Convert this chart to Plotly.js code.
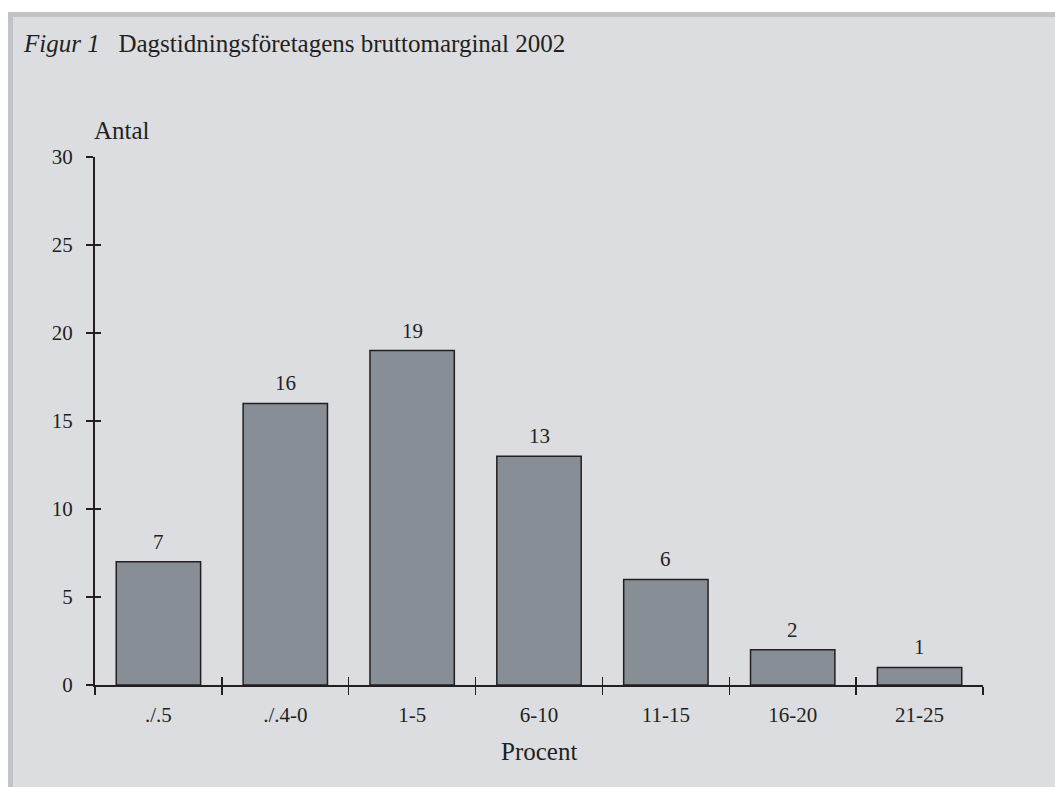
<!DOCTYPE html>
<html>
<head>
<meta charset="utf-8">
<script src="https://cdn.plot.ly/plotly-3.0.1.min.js"></script>
<style>
  html, body { margin: 0; padding: 0; background: #ffffff; }
  #frame {
    position: absolute; left: 8px; top: 12px; width: 1042px; height: 770px;
    background: #dcdde0; border-left: 5px solid #c2c3c5; border-top: 5px solid #c2c3c5;
  }
  #chart { position: absolute; left: 0; top: 0; width: 1055px; height: 787px; }
</style>
</head>
<body>
<div id="frame"></div>
<div id="chart"></div>
<script>
const categories = ['./.5', './.4-0', '1-5', '6-10', '11-15', '16-20', '21-25'];
const counts = [7, 16, 19, 13, 6, 2, 1];
const yTicks = [0, 5, 10, 15, 20, 25, 30];

const FONT = '"Liberation Serif", "Times New Roman", serif';
const INK = '#231f20';

const bars = {
  type: 'bar', x: categories, y: counts,
  marker: { color: '#878e96', line: { color: INK, width: 1.5 } },
  hoverinfo: 'skip', showlegend: false
};
const ghost = {
  type: 'bar', x: categories, y: counts, xaxis: 'x2', yaxis: 'y2',
  marker: { color: 'rgba(0,0,0,0)' }, hoverinfo: 'skip', showlegend: false
};

const labelAnnotations = categories.map((c, i) => ({
  x: c, y: counts[i], xref: 'x', yref: 'y', text: String(counts[i]),
  showarrow: false, yanchor: 'bottom', yshift: 6,
  font: { family: FONT, size: 21, color: INK }
}));

const layout = {
  width: 1055, height: 787,
  margin: { l: 95, r: 72, t: 157, b: 102, pad: 0 },
  paper_bgcolor: 'rgba(0,0,0,0)', plot_bgcolor: 'rgba(0,0,0,0)',
  bargap: 0.335,
  font: { family: FONT, color: INK },
  title: {
    text: '<i>Figur 1</i>&nbsp;&nbsp;&nbsp;Dagstidningsföretagens bruttomarginal 2002',
    xref: 'container', yref: 'container', x: 24 / 1055, xanchor: 'left',
    y: 1 - 43 / 787, yanchor: 'middle',
    font: { family: FONT, size: 25, color: INK }
  },
  xaxis: {
    type: 'category', categoryarray: categories, range: [-0.5, categories.length - 0.5],
    showline: true, linecolor: INK, linewidth: 2,
    ticks: 'outside', tickson: 'boundaries', ticklen: 8, tickwidth: 1.5, tickcolor: INK,
    ticklabelstandoff: 10,
    tickfont: { family: FONT, size: 21, color: INK },
    showgrid: false, zeroline: false, fixedrange: true
  },
  xaxis2: {
    type: 'category', categoryarray: categories, range: [-0.5, categories.length - 0.5],
    overlaying: 'x', matches: 'x',
    ticks: 'inside', tickson: 'boundaries', ticklen: 8, tickwidth: 1.5, tickcolor: INK,
    showticklabels: false, showline: false, showgrid: false, zeroline: false
  },
  yaxis: {
    range: [0, 30], tickvals: yTicks, ticktext: yTicks.map(String),
    showline: true, linecolor: INK, linewidth: 2,
    ticks: 'outside', ticklen: 7, tickwidth: 1.5, tickcolor: INK,
    ticklabelstandoff: 9,
    tickfont: { family: FONT, size: 21, color: INK },
    showgrid: false, zeroline: false, fixedrange: true
  },
  yaxis2: {
    range: [0, 30], tickvals: yTicks, overlaying: 'y', side: 'left',
    ticks: 'inside', ticklen: 6, tickwidth: 1.5, tickcolor: INK,
    showticklabels: false, showline: false, showgrid: false, zeroline: false
  },
  annotations: labelAnnotations.concat([
    {
      text: 'Antal', xref: 'paper', yref: 'paper', x: 0, y: 1,
      xanchor: 'left', yanchor: 'middle', xshift: -3, yshift: 27,
      showarrow: false, font: { family: FONT, size: 25, color: INK }
    },
    {
      text: 'Procent', xref: 'paper', yref: 'paper', x: 0.5, y: 0,
      xanchor: 'center', yanchor: 'middle', yshift: -66,
      showarrow: false, font: { family: FONT, size: 25, color: INK }
    }
  ])
};

Plotly.newPlot('chart', [bars, ghost], layout, { staticPlot: true, displayModeBar: false });
</script>
</body>
</html>
